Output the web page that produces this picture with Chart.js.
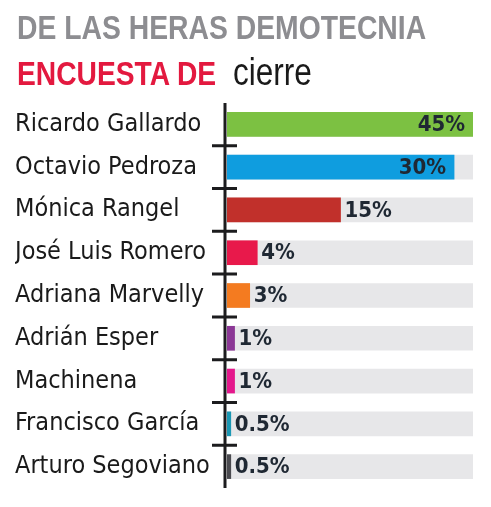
<!DOCTYPE html>
<html>
<head>
<meta charset="utf-8">
<script src="https://cdn.jsdelivr.net/npm/chart.js@4"></script>
<style>
    body { margin: 0; background: #fff; }
    #wrap { position: relative; width: 491px; height: 507px; overflow: hidden; }
    canvas { position: absolute; left: 0; top: 0; }
    .head { position: absolute; font-family: "Liberation Sans", sans-serif; white-space: nowrap; transform-origin: left top; }
    #line1 { left: 17px; top: 10px; font-size: 34px; line-height: 34px; font-weight: bold; color: #8d8d91; transform: scaleX(0.833); }
    #line2 { left: 17px; top: 56px; font-size: 34px; line-height: 34px; font-weight: bold; color: #e3193f; transform: scaleX(0.83); }
    #line2b { left: 233px; top: 53px; font-size: 38px; line-height: 38px; color: #1a1a1a; transform: scaleX(0.83); }
</style>
</head>
<body>
<div id="wrap">
    <canvas id="pollChart" width="491" height="507"></canvas>
    <div class="head" id="line1">DE LAS HERAS DEMOTECNIA</div>
    <div class="head" id="line2">ENCUESTA DE</div>
    <div class="head" id="line2b">cierre</div>
</div>
<script>
const candidates = ['Ricardo Gallardo', 'Octavio Pedroza', 'Mónica Rangel', 'José Luis Romero',
    'Adriana Marvelly', 'Adrián Esper', 'Machinena', 'Francisco García', 'Arturo Segoviano'];
const percents = [45, 30, 15, 4, 3, 1, 1, 0.5, 0.5];
const valueLabels = ['45%', '30%', '15%', '4%', '3%', '1%', '1%', '0.5%', '0.5%'];
const barColors = ['#7cc142', '#0f9ddf', '#c1302b', '#e8194b', '#f47b20', '#8b3795', '#e4188c', '#1b98b4', '#4a4a4f'];

// visible track length (the top bar runs past it and gets clipped)
const trackMax = 32.5;
const trackValues = candidates.map(() => trackMax);

const condensed = '"DejaVu Sans Condensed", "DejaVu Sans", sans-serif';

// axis line, tick marks between rows and value labels
const decorPlugin = {
    id: 'decor',
    afterDatasetsDraw(chart) {
        const { ctx, chartArea, scales } = chart;
        const axisX = chartArea.left - 2;
        ctx.save();
        ctx.strokeStyle = '#1c1c1e';
        ctx.lineWidth = 3;
        ctx.beginPath();
        ctx.moveTo(axisX, chartArea.top);
        ctx.lineTo(axisX, chartArea.bottom);
        for (let i = 0; i < candidates.length - 1; i++) {
            const y = (scales.y.getPixelForValue(i) + scales.y.getPixelForValue(i + 1)) / 2;
            ctx.moveTo(axisX - 13, y);
            ctx.lineTo(axisX + 12, y);
        }
        ctx.stroke();

        ctx.fillStyle = '#1f2833';
        ctx.font = 'bold 22px ' + condensed;
        ctx.textBaseline = 'middle';
        percents.forEach((v, i) => {
            const y = scales.y.getPixelForValue(i) + 1;
            const end = Math.min(scales.x.getPixelForValue(v), chartArea.right);
            if (v >= 30) {
                ctx.textAlign = 'right';
                ctx.fillText(valueLabels[i], end - 8, y);
            } else {
                ctx.textAlign = 'left';
                ctx.fillText(valueLabels[i], end + 4, y);
            }
        });
        ctx.restore();
    }
};

new Chart(document.getElementById('pollChart'), {
    type: 'bar',
    data: {
        labels: candidates,
        datasets: [{
            data: percents,
            backgroundColor: barColors,
            barThickness: 24,
            order: 1
        }, {
            data: trackValues,
            backgroundColor: '#e7e7e9',
            barThickness: 24,
            order: 2
        }]
    },
    options: {
        indexAxis: 'y',
        responsive: false,
        animation: false,
        layout: {
            padding: { left: 15, right: 18, top: 103, bottom: 19 }
        },
        plugins: {
            legend: { display: false },
            tooltip: { enabled: false }
        },
        scales: {
            x: {
                display: false,
                min: 0,
                max: trackMax
            },
            y: {
                stacked: true,
                grid: { display: false },
                border: { display: false },
                afterFit(scale) { scale.width = 212; },
                ticks: {
                    crossAlign: 'far',
                    color: '#1a1a1a',
                    font: { family: condensed, size: 25 }
                }
            }
        }
    },
    plugins: [decorPlugin]
});
</script>
</body>
</html>
